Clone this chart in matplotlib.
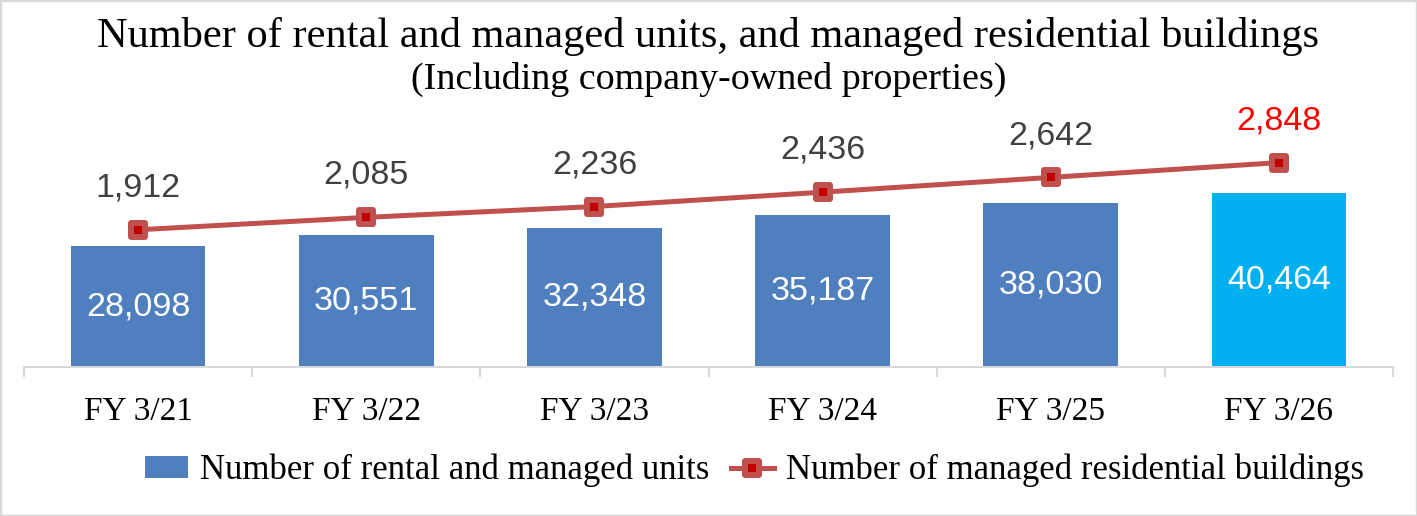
import matplotlib
matplotlib.use('Agg')
import matplotlib.pyplot as plt
from matplotlib.markers import MarkerStyle
from matplotlib.patches import Rectangle, Patch
from matplotlib.lines import Line2D
import numpy as np

# data
categories = ['FY 3/21', 'FY 3/22', 'FY 3/23', 'FY 3/24', 'FY 3/25', 'FY 3/26']
units = [28098, 30551, 32348, 35187, 38030, 40464]
buildings = [1912, 2085, 2236, 2436, 2642, 2848]

# colours
bar_blue = '#4F7FBF'
bar_cyan = '#00B0F0'
line_red = '#C0504D'
mark_red = '#C00000'
grey_txt = '#404040'
axis_grey = '#D9D9D9'

serif = ['Liberation Serif', 'DejaVu Serif']
sans = ['Liberation Sans', 'DejaVu Sans']

fig = plt.figure(figsize=(14.17, 5.16), dpi=100)
fig.patch.set_facecolor('white')
fig.patches.append(Rectangle((0, 0), 1, 1, transform=fig.transFigure, fill=False,
                             edgecolor=axis_grey, linewidth=2.5, zorder=10))

left, right = 24 / 1417, 1393 / 1417
bottom, top = 1 - 367 / 516, 1 - 151.7 / 516
ax = fig.add_axes([left, bottom, right - left, top - bottom])
x = np.arange(len(categories))

colors = [bar_blue] * (len(categories) - 1) + [bar_cyan]
bars = ax.bar(x, units, width=0.59, color=colors, zorder=2)
ax.set_xlim(-0.5, len(categories) - 0.5)
ax.set_ylim(0, 50000)
for xi, v in zip(x, units):
    ax.text(xi, v / 2, f'{v:,}', ha='center', va='center', color='white',
            fontsize=24.5, family=sans)

for s in ['top', 'right', 'left']:
    ax.spines[s].set_visible(False)
ax.spines['bottom'].set_color(axis_grey)
ax.spines['bottom'].set_linewidth(1.5)
ax.set_yticks([])
ax.set_xticks(x)
ax.set_xticklabels(categories, family=serif, fontsize=24)
ax.set_xticks(np.arange(-0.5, len(categories)), minor=True)
ax.tick_params(axis='x', which='major', length=0, pad=21)
ax.tick_params(axis='x', which='minor', length=7.5, width=1.5, color=axis_grey)

# secondary axis for the line
ax2 = ax.twinx()
ax2.set_ylim(0, 3000)
ax2.axis('off')
msq = MarkerStyle('s', joinstyle='round')
ax2.plot(x, buildings, color=line_red, linewidth=3.6, marker=msq, markersize=10,
         markerfacecolor=mark_red, markeredgecolor=line_red, markeredgewidth=4.3,
         solid_capstyle='round', zorder=3)
for i, (xi, v) in enumerate(zip(x, buildings)):
    c = 'red' if i == len(buildings) - 1 else grey_txt
    ax2.annotate(f'{v:,}', (xi, v), xytext=(0, 19), textcoords='offset points',
                 ha='center', va='bottom', color=c, fontsize=24.5, family=sans,
                 annotation_clip=False)

# titles
fig.text(708 / 1417, 1 - 47 / 516, 'Number of rental and managed units, and managed residential buildings',
         ha='center', va='baseline', fontsize=30.5, family=serif)
fig.text(709 / 1417, 1 - 89 / 516, '(Including company-owned properties)',
         ha='center', va='baseline', fontsize=27.4, family=serif)

# legend
handles = [Patch(facecolor=bar_blue, edgecolor='none'),
           Line2D([0], [0], color=line_red, linewidth=3.6, marker=msq, markersize=10,
                  markerfacecolor=mark_red, markeredgecolor=line_red, markeredgewidth=4.3)]
labels = ['Number of rental and managed units', 'Number of managed residential buildings']
fig.legend(handles, labels, loc='center', bbox_to_anchor=(0.5325, 0.088), ncol=2,
           frameon=False, prop={'family': serif, 'size': 25}, handlelength=1.25,
           handleheight=0.6, handletextpad=0.35, columnspacing=0.6)

fig.savefig('out.png', dpi=100, facecolor='white')
